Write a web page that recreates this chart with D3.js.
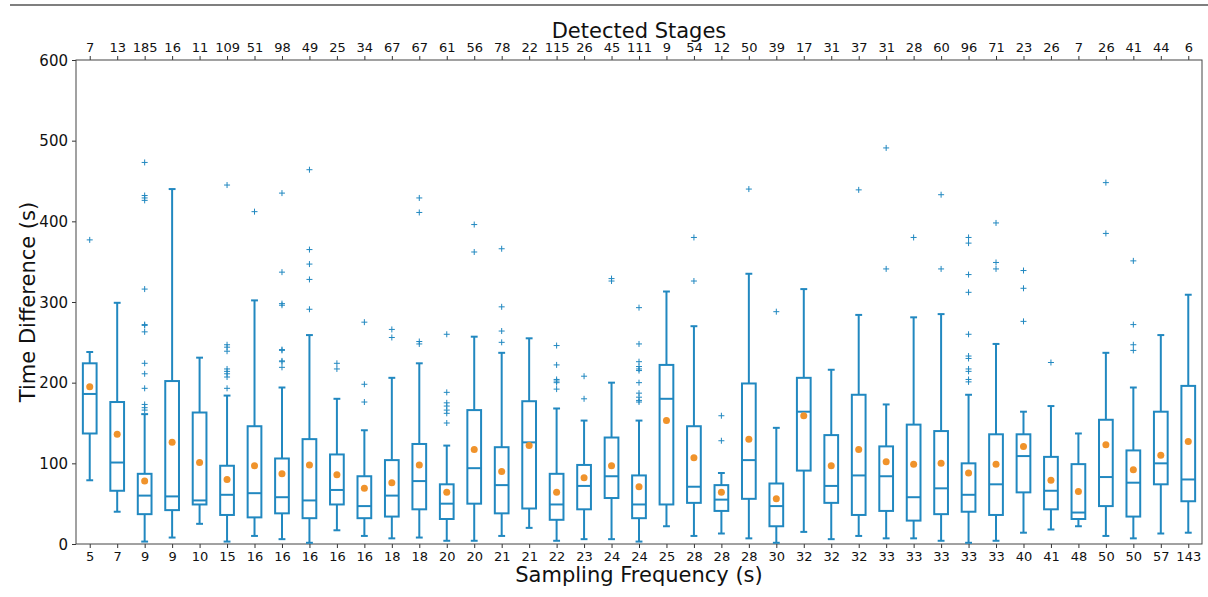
<!DOCTYPE html>
<html>
<head>
<meta charset="utf-8">
<script src="https://cdn.jsdelivr.net/npm/d3@7"></script>
<style>
  body { margin: 0; background: #fff; }
  text { font-family: "DejaVu Sans", sans-serif; fill: #111; }
</style>
</head>
<body>
<div id="chart"></div>
<script>
// Sampling frequency (bottom labels) and detected stages (top labels)
var freqLabels = [5, 7, 9, 9, 10, 15, 16, 16, 16, 16, 16, 18, 18, 20, 20, 21, 21, 22, 23, 24, 24, 25, 28, 28, 28, 30, 32, 32, 32, 33, 33, 33, 33, 33, 40, 41, 48, 50, 50, 57, 143];
var stageLabels = [7, 13, 185, 16, 11, 109, 51, 98, 49, 25, 34, 67, 67, 61, 56, 78, 22, 115, 26, 45, 111, 9, 54, 12, 50, 39, 17, 31, 37, 31, 28, 60, 96, 71, 23, 26, 7, 26, 41, 44, 6];

// box stats
var whiskLow = [79, 40, 3, 8, 25, 3, 10, 6, 1.5, 17, 10, 7, 8, 4, 4, 10, 20, 4, 6, 6, 3, 22, 10, 13, 7, 1.5, 15, 6, 10, 7, 7, 4, 1.5, 4, 14, 18, 22, 10, 7, 13, 14];
var q1 = [137, 66, 37, 42, 49, 36, 33, 38, 32, 49, 32, 34, 43, 31, 50, 38, 44, 30, 43, 57, 32, 49, 51, 41, 56, 22, 91, 51, 36, 41, 29, 37, 40, 36, 64, 43, 31, 47, 34, 74, 53];
var median = [186, 101, 60, 59, 54, 61, 63, 58, 54, 67, 47, 60, 78, 50, 94, 73, 126, 49, 72, 84, 49, 180, 71, 55, 104, 47, 164, 72, 85, 84, 58, 69, 61, 74, 109, 66, 39, 83, 76, 100, 80];
var q3 = [224, 176, 87, 202, 163, 97, 146, 106, 130, 111, 84, 104, 124, 74, 166, 120, 177, 87, 98, 132, 85, 222, 146, 73, 199, 75, 206, 135, 185, 121, 148, 140, 100, 136, 136, 108, 99, 154, 116, 164, 196];
var whiskHigh = [238, 299, 161, 440, 231, 184, 302, 194, 259, 180, 141, 206, 224, 122, 257, 237, 255, 168, 153, 200, 153, 313, 270, 88, 335, 144, 316, 216, 284, 173, 281, 285, 185, 248, 164, 171, 137, 237, 194, 259, 309];
var means = [195, 136, 78, 126, 101, 80, 97, 87, 98, 86, 69, 76, 98, 64, 117, 90, 122, 64, 82, 97, 71, 153, 107, 64, 130, 56, 159, 97, 117, 102, 99, 100, 88, 99, 121, 79, 65, 123, 92, 110, 127];
var outliers = [
  [377],
  [],
  [473, 432, 429, 426, 316, 272, 271, 263, 224, 211, 193, 173, 169, 166],
  [],
  [],
  [445, 247, 244, 239, 217, 214, 211, 207, 193],
  [412],
  [435, 337, 298, 296, 241, 240, 227, 226, 219],
  [464, 365, 347, 328, 291],
  [224, 217],
  [275, 198, 176],
  [266, 256],
  [429, 411, 251, 248],
  [260, 188, 175, 171, 166, 162, 150],
  [396, 362],
  [366, 294, 264, 250],
  [],
  [246, 222, 204, 202, 200, 192],
  [208, 180],
  [329, 326],
  [293, 248, 226, 220, 217, 215, 200, 187, 182, 178, 176],
  [],
  [380, 326],
  [159, 128],
  [440],
  [288],
  [],
  [],
  [439],
  [491, 341],
  [380],
  [433, 341],
  [380, 373, 334, 312, 260, 233, 230, 217, 214, 204, 201],
  [398, 349, 341],
  [339, 317, 276],
  [225],
  [],
  [448, 385],
  [351, 272, 247, 240],
  [],
  []
];
var yTicks = [0, 100, 200, 300, 400, 500, 600];

var W = 1208, H = 597;
var margin = { left: 76, right: 6, top: 60, bottom: 53 };
var blue = "#2188c0", orange = "#f0932b";

var svg = d3.select("#chart").append("svg")
  .attr("width", W).attr("height", H);

// line across the top of the image
svg.append("line")
  .attr("x1", 10).attr("x2", W).attr("y1", 5).attr("y2", 5)
  .attr("stroke", "#555").attr("stroke-width", 1.5);

var idx = d3.range(freqLabels.length);

var x = d3.scaleLinear()
  .domain([0.5, freqLabels.length + 0.5])
  .range([margin.left, W - margin.right]);
var y = d3.scaleLinear()
  .domain([0, 600])
  .range([H - margin.bottom, margin.top]);

var boxW = x(1.5) - x(1);
var capW = boxW / 2;

// axes
var bottomAxis = d3.axisBottom(x).tickValues(idx.map(function (i) { return i + 1; }))
  .tickFormat(function (d) { return freqLabels[d - 1]; }).tickSize(4).tickPadding(4);
var topAxis = d3.axisTop(x).tickValues(idx.map(function (i) { return i + 1; }))
  .tickFormat(function (d) { return stageLabels[d - 1]; }).tickSize(4).tickPadding(4);
var leftAxis = d3.axisLeft(y).tickValues(yTicks).tickSize(4).tickPadding(4);

var gb = svg.append("g").attr("transform", "translate(0," + (H - margin.bottom) + ")").call(bottomAxis);
var gt = svg.append("g").attr("transform", "translate(0," + margin.top + ")").call(topAxis);
var gl = svg.append("g").attr("transform", "translate(" + margin.left + ",0)").call(leftAxis);
[gb, gt, gl].forEach(function (g) {
  g.select(".domain").remove();
  g.selectAll("line").attr("stroke", "#333");
  g.selectAll("text").style("font-family", "DejaVu Sans").attr("fill", "#111");
});
gb.selectAll("text").style("font-size", "13px");
gt.selectAll("text").style("font-size", "13px");
gl.selectAll("text").style("font-size", "15px").attr("dy", "0.34em");

// frame
svg.append("rect")
  .attr("x", margin.left).attr("y", margin.top)
  .attr("width", W - margin.right - margin.left)
  .attr("height", H - margin.bottom - margin.top)
  .attr("fill", "none").attr("stroke", "#444").attr("stroke-width", 1);

// boxes
var g = svg.append("g");
idx.forEach(function (i) {
  var cx = x(i + 1);
  var bg = g.append("g");
  // whiskers
  bg.append("line").attr("x1", cx).attr("x2", cx).attr("y1", y(q3[i])).attr("y2", y(whiskHigh[i]))
    .attr("stroke", blue).attr("stroke-width", 2);
  bg.append("line").attr("x1", cx).attr("x2", cx).attr("y1", y(q1[i])).attr("y2", y(whiskLow[i]))
    .attr("stroke", blue).attr("stroke-width", 2);
  // caps
  [whiskHigh[i], whiskLow[i]].forEach(function (v) {
    bg.append("line").attr("x1", cx - capW / 2).attr("x2", cx + capW / 2)
      .attr("y1", y(v)).attr("y2", y(v))
      .attr("stroke", blue).attr("stroke-width", 2);
  });
  // box
  bg.append("rect")
    .attr("x", cx - boxW / 2).attr("y", y(q3[i]))
    .attr("width", boxW).attr("height", y(q1[i]) - y(q3[i]))
    .attr("fill", "none").attr("stroke", blue).attr("stroke-width", 2);
  // median
  bg.append("line").attr("x1", cx - boxW / 2).attr("x2", cx + boxW / 2)
    .attr("y1", y(median[i])).attr("y2", y(median[i]))
    .attr("stroke", blue).attr("stroke-width", 2);
  // fliers
  outliers[i].forEach(function (v) {
    bg.append("path")
      .attr("d", "M" + (cx - 3) + "," + y(v) + "H" + (cx + 3) + "M" + cx + "," + (y(v) - 3) + "V" + (y(v) + 3))
      .attr("stroke", blue).attr("stroke-width", 1);
  });
  // mean
  bg.append("circle").attr("cx", cx).attr("cy", y(means[i])).attr("r", 3.5)
    .attr("fill", orange);
});

// titles
svg.append("text")
  .attr("x", (margin.left + W - margin.right) / 2).attr("y", 38)
  .attr("text-anchor", "middle").style("font-size", "21px")
  .text("Detected Stages");
svg.append("text")
  .attr("x", (margin.left + W - margin.right) / 2).attr("y", 582)
  .attr("text-anchor", "middle").style("font-size", "21px")
  .text("Sampling Frequency (s)");
svg.append("text")
  .attr("transform", "translate(35," + ((margin.top + H - margin.bottom) / 2) + ") rotate(-90)")
  .attr("text-anchor", "middle").style("font-size", "21px")
  .text("Time Difference (s)");
</script>
</body>
</html>
